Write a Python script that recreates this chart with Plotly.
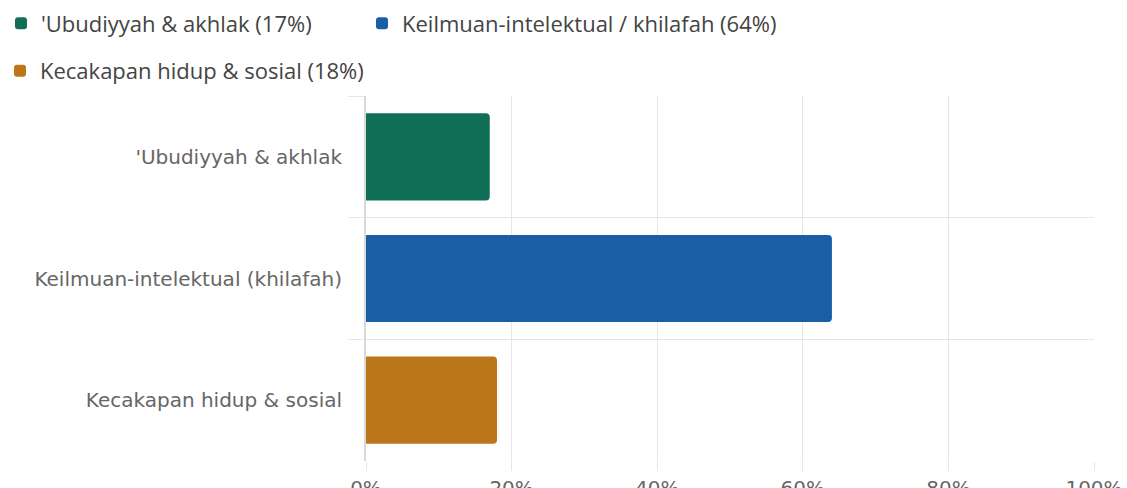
import plotly.graph_objects as go

categories = ["'Ubudiyyah & akhlak", "Keilmuan-intelektual (khilafah)", "Kecakapan hidup & sosial"]
values = [17, 64, 18]
legend_labels = ["'Ubudiyyah & akhlak (17%)", "Keilmuan-intelektual / khilafah (64%)", "Kecakapan hidup & sosial (18%)"]
colors = ["#106f57", "#1a5ea5", "#bb7619"]
x_ticks = [0, 20, 40, 60, 80, 100]
x_tick_labels = ["0%", "20%", "40%", "60%", "80%", "100%"]

L, R, T, B = 366, 33, 96, 27
W, H = 1127, 488

legend_ids = ["legend", "legend2", "legend3"]
# legend anchor positions in pixels (left edge, row centre)
legend_pos = [(1, 23.5), (362, 23.5), (0, 71)]

fig = go.Figure()
for cat, val, lab, col, lg in zip(categories, values, legend_labels, colors, legend_ids):
    fig.add_trace(go.Bar(
        x=[val], y=[cat], orientation="h", name=lab,
        marker=dict(color=col, line=dict(width=0)),
        legend=lg, hoverinfo="skip",
    ))

grid = "#e6e6e6"
legend_font = dict(family="Open Sans", size=22, color="#444444")
legends = {}
for lg, (lx, ly) in zip(legend_ids, legend_pos):
    legends[lg] = dict(orientation="h", xref="container", yref="container",
                       x=lx / W, y=1 - ly / H,
                       xanchor="left", yanchor="middle", font=legend_font,
                       bgcolor="rgba(0,0,0,0)", borderwidth=0)

fig.update_layout(
    width=W, height=H,
    margin=dict(l=L, r=R, t=T, b=B),
    paper_bgcolor="white", plot_bgcolor="white",
    barmode="overlay", bargap=0.284, barcornerradius=4,
    showlegend=True,
    **legends,
    xaxis=dict(range=[0, 100], tickmode="array", tickvals=x_ticks, ticktext=x_tick_labels,
               showgrid=True, gridcolor=grid,
               gridwidth=1, zeroline=False, ticks="outside", ticklen=9, tickcolor=grid,
               tickfont=dict(family="DejaVu Sans", size=20, color="#666666"),
               automargin=False, fixedrange=True),
    yaxis=dict(categoryorder="array", categoryarray=categories, autorange="reversed",
               tickson="boundaries", ticks="outside", ticklen=16, tickcolor=grid,
               showgrid=True, gridcolor=grid, gridwidth=1,
               showline=True, linecolor="#d9d9d9", linewidth=2,
               ticklabelstandoff=18,
               tickfont=dict(family="DejaVu Sans", size=20, color="#666666"),
               automargin=False, fixedrange=True),
)

fig.write_html("out.html", config={"displayModeBar": False},
               post_script="document.body.style.margin='0';")
